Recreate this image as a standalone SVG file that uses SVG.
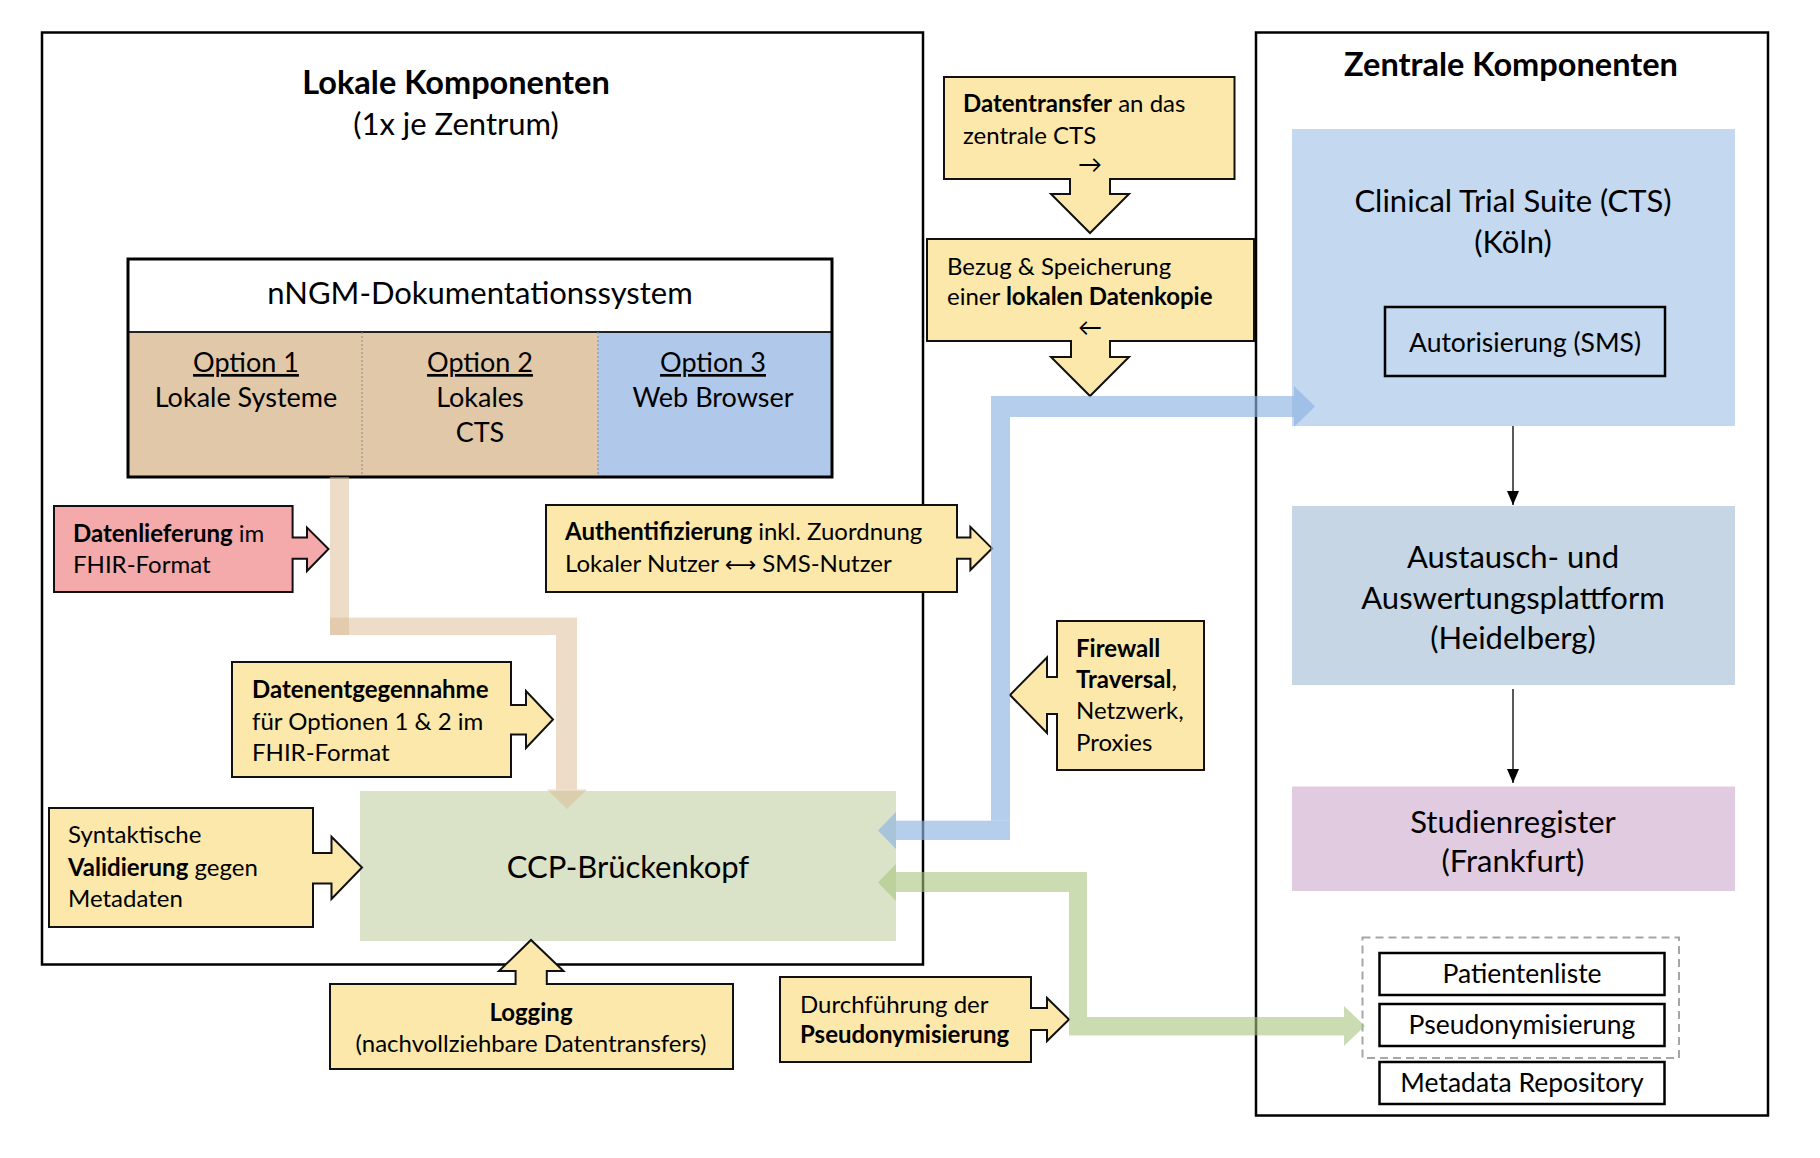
<svg xmlns="http://www.w3.org/2000/svg" width="1820" height="1158" viewBox="0 0 1820 1158">
<defs>
<style>
text{font-family:Lato,"Liberation Sans",sans-serif;fill:#000}
.xl{font-size:31px}
.ttl{font-size:32.5px;font-weight:bold}
.l{font-size:27px}
.m{font-size:24px}
.s{font-size:26.5px}
.b{font-weight:bold}
.c{text-anchor:middle}
.ar{font-family:"DejaVu Sans",sans-serif}
.co{fill:#FCE8AA;stroke:#111;stroke-width:2}
.frame{fill:none;stroke:#000;stroke-width:2.5}
.sm{fill:#fff;stroke:#000;stroke-width:2.5}
.tan{fill:#D9B991;opacity:.5}
.blu{fill:#8DB3E2;opacity:.65}
.grn{fill:#A9C47F;opacity:.6}
.thin{stroke:#000;stroke-width:1.3;fill:none}
</style>
<marker id="ah" viewBox="0 0 14 12" refX="14" refY="6" markerWidth="14" markerHeight="12" orient="auto" markerUnits="userSpaceOnUse"><path d="M0,0 L14,6 L0,12 Z" fill="#000"/></marker>
</defs>
<rect width="1820" height="1158" fill="#fff"/>

<g id="lokale-komponenten">
<rect class="frame" x="42" y="32.5" width="881" height="932"/>
<text class="ttl c" x="456" y="94">Lokale Komponenten</text>
<text class="xl c" x="456" y="135">(1x je Zentrum)</text>
</g>

<g id="zentrale-komponenten">
<rect class="frame" x="1256" y="32.5" width="512" height="1083"/>
<text class="ttl c" x="1511" y="76">Zentrale Komponenten</text>
</g>

<g id="nngm">
<rect x="128" y="259" width="704" height="73" fill="#fff"/>
<rect x="128" y="332" width="470" height="145" fill="#E0C8A8"/>
<rect x="598" y="332" width="234" height="145" fill="#B0C9EA"/>
<line x1="128" y1="332" x2="832" y2="332" stroke="#222" stroke-width="2"/>
<line x1="362" y1="332" x2="362" y2="477" stroke="#888" stroke-width="1" stroke-dasharray="2,2"/>
<line x1="598" y1="332" x2="598" y2="477" stroke="#888" stroke-width="1" stroke-dasharray="2,2"/>
<rect x="128" y="259" width="704" height="218" fill="none" stroke="#000" stroke-width="3"/>
<text class="xl c" x="480" y="304">nNGM-Dokumentationssystem</text>
<text class="l c" x="246" y="372" text-decoration="underline">Option 1</text>
<text class="l c" x="246" y="407">Lokale Systeme</text>
<text class="l c" x="480" y="372" text-decoration="underline">Option 2</text>
<text class="l c" x="480" y="407">Lokales</text>
<text class="l c" x="480" y="442">CTS</text>
<text class="l c" x="713" y="372" text-decoration="underline">Option 3</text>
<text class="l c" x="713" y="407">Web Browser</text>
</g>

<g id="ccp">
<rect x="360" y="791" width="536" height="150" fill="#DAE3C8"/>
<text class="xl c" x="628" y="878">CCP-Brückenkopf</text>
</g>

<g id="cts">
<rect x="1292" y="129" width="443" height="297" fill="#C4D8EF"/>
<text class="xl c" x="1513" y="212">Clinical Trial Suite (CTS)</text>
<text class="xl c" x="1513" y="253">(Köln)</text>
<rect x="1385" y="307" width="280" height="69" fill="none" stroke="#000" stroke-width="2.5"/>
<text class="s c" x="1525" y="352">Autorisierung (SMS)</text>
</g>

<g id="austausch">
<rect x="1292" y="506" width="443" height="179" fill="#C6D6E4"/>
<text class="xl c" x="1513" y="568">Austausch- und</text>
<text class="xl c" x="1513" y="609">Auswertungsplattform</text>
<text class="xl c" x="1513" y="649">(Heidelberg)</text>
</g>

<g id="studienregister">
<rect x="1292" y="786.5" width="443" height="104.5" fill="#E1CBE0"/>
<text class="xl c" x="1513" y="833">Studienregister</text>
<text class="xl c" x="1513" y="872">(Frankfurt)</text>
</g>

<g id="zentrale-dienste">
<rect x="1362.5" y="937.5" width="316.5" height="120.5" fill="none" stroke="#A6A6A6" stroke-width="2" stroke-dasharray="8,5"/>
<rect class="sm" x="1379.5" y="953" width="285" height="42"/>
<text class="s c" x="1522" y="983">Patientenliste</text>
<rect class="sm" x="1379.5" y="1004" width="285" height="42"/>
<text class="s c" x="1522" y="1034">Pseudonymisierung</text>
<rect class="sm" x="1379.5" y="1062" width="285" height="42"/>
<text class="s c" x="1522" y="1092">Metadata Repository</text>
</g>

<g id="datenlieferung">
<path fill="#F4AAAA" stroke="#111" stroke-width="2" d="M54,506 H292.6 V537.6 H307 V527.6 L328.5,549 L307,571 V558.8 H292.6 V592 H54 Z"/>
<text class="m" x="73" y="542"><tspan class="b">Datenlieferung</tspan> im</text>
<text class="m" x="73" y="573">FHIR-Format</text>
</g>

<g id="datenentgegennahme">
<path class="co" d="M232,662 H511 V705 H526 V691 L553,719.5 L526,748 V734.5 H511 V777 H232 Z"/>
<text class="m b" x="252" y="698">Datenentgegennahme</text>
<text class="m" x="252" y="730">für Optionen 1 &amp; 2 im</text>
<text class="m" x="252" y="761">FHIR-Format</text>
</g>

<g id="validierung">
<path class="co" d="M49,808 H313 V853 H331.5 V836.7 L362,867.5 L331.5,899 V883.5 H313 V927 H49 Z"/>
<text class="m" x="68" y="843">Syntaktische</text>
<text class="m" x="68" y="876"><tspan class="b">Validierung</tspan> gegen</text>
<text class="m" x="68" y="907">Metadaten</text>
</g>

<g id="authentifizierung">
<path class="co" d="M546,505 H957 V537.6 H970.4 V526.8 L992,548.4 L970.4,570 V558.8 H957 V592 H546 Z"/>
<text class="m" x="565" y="540"><tspan class="b">Authentifizierung</tspan> inkl. Zuordnung</text>
<text class="m" x="565" y="572">Lokaler Nutzer <tspan class="ar" font-size="22px">⟷</tspan> SMS-Nutzer</text>
</g>

<g id="firewall">
<path class="co" d="M1204,621 V770 H1057 V714 H1047 V733 L1010,695 L1047,657.5 V677 H1057 V621 Z"/>
<text class="m b" x="1076" y="657">Firewall</text>
<text class="m" x="1076" y="688"><tspan class="b">Traversal</tspan>,</text>
<text class="m" x="1076" y="719">Netzwerk,</text>
<text class="m" x="1076" y="751">Proxies</text>
</g>

<g id="pseudonymisierung">
<path class="co" d="M780,977 H1031 V1008 H1047 V998 L1069,1019.5 L1047,1041 V1030 H1031 V1062 H780 Z"/>
<text class="m" x="800" y="1013">Durchführung der</text>
<text class="m b" x="800" y="1043">Pseudonymisierung</text>
</g>

<g id="logging">
<path class="co" d="M330,984 H515.6 V971 H499 L531,940 L563.5,971 H546.8 V984 H733 V1069 H330 Z"/>
<text class="m b c" x="531" y="1021">Logging</text>
<text class="m c" x="531" y="1052">(nachvollziehbare Datentransfers)</text>
</g>

<g id="datentransfer">
<path class="co" d="M944,77 H1234.5 V179 H1110 V194 H1129 L1090,233 L1051,194 H1070 V179 H944 Z"/>
<text class="m" x="963" y="112"><tspan class="b">Datentransfer</tspan> an das</text>
<text class="m" x="963" y="144">zentrale CTS</text>
<text class="m c" x="1090" y="173">→</text>
</g>

<g id="datenkopie">
<path class="co" d="M927,239 H1254 V341 H1110 V357 H1129 L1090,396 L1051,357 H1071 V341 H927 Z"/>
<text class="m" x="947" y="275">Bezug &amp; Speicherung</text>
<text class="m" x="947" y="305">einer <tspan class="b">lokalen Datenkopie</tspan></text>
<text class="m c" x="1090" y="336">←</text>
</g>

<g id="connectors">
<rect class="tan" x="330" y="477" width="19" height="158"/>
<rect class="tan" x="330" y="617.6" width="247" height="17.4"/>
<rect class="tan" x="556" y="635" width="21" height="154.5"/>
<polygon class="tan" points="547,789.5 587,789.5 567,809"/>

<rect class="blu" x="896" y="820.7" width="114" height="19.3"/>
<polygon class="blu" points="896,812 896,849 878,830.5"/>
<rect class="blu" x="991" y="396" width="19" height="424.7"/>
<rect class="blu" x="1010" y="396" width="284" height="21"/>
<polygon class="blu" points="1294,386 1294,427 1315,406.5"/>

<rect class="grn" x="896" y="872" width="191" height="20"/>
<polygon class="grn" points="896,864 896,901 878,882.5"/>
<rect class="grn" x="1069" y="892" width="18" height="125"/>
<rect class="grn" x="1069" y="1017" width="275" height="18.4"/>
<polygon class="grn" points="1344,1006 1344,1046 1365,1026"/>

<line class="thin" x1="1513" y1="426" x2="1513" y2="505" marker-end="url(#ah)"/>
<line class="thin" x1="1513" y1="689" x2="1513" y2="783" marker-end="url(#ah)"/>
</g>
</svg>
